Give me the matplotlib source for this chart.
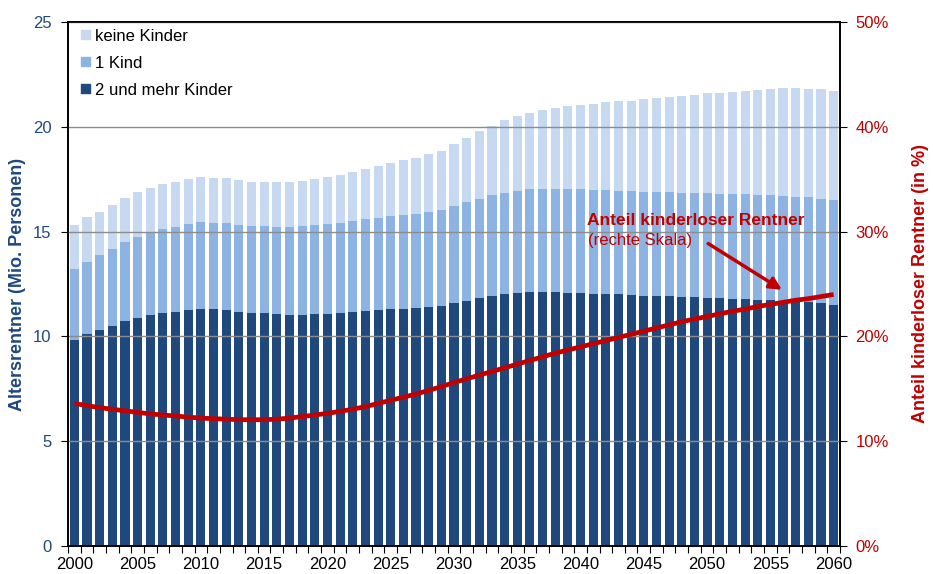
import numpy as np
import matplotlib
matplotlib.use('Agg')
import matplotlib.pyplot as plt
from matplotlib.patches import Patch
from matplotlib.ticker import FuncFormatter, MultipleLocator

plt.rcParams['font.family'] = ['Liberation Sans', 'DejaVu Sans']

years = list(range(2000, 2061))

# Altersrentner mit 2 und mehr Kindern (Mio.)
zwei_plus = [9.81, 10.10, 10.29, 10.51, 10.73, 10.90, 11.00, 11.13, 11.16, 11.24,
             11.29, 11.29, 11.24, 11.16, 11.11, 11.11, 11.06, 11.02, 11.03, 11.06,
             11.06, 11.11, 11.17, 11.22, 11.25, 11.29, 11.32, 11.37, 11.41, 11.46,
             11.60, 11.70, 11.84, 11.94, 12.00, 12.05, 12.10, 12.11, 12.10, 12.08,
             12.05, 12.03, 12.03, 12.00, 11.97, 11.95, 11.95, 11.92, 11.89, 11.86,
             11.84, 11.81, 11.79, 11.78, 11.75, 11.73, 11.70, 11.68, 11.63, 11.57,
             11.52]
# kumuliert bis "1 Kind"
bis_ein_kind = [13.22, 13.57, 13.86, 14.17, 14.48, 14.76, 14.95, 15.11, 15.22, 15.37,
                15.44, 15.43, 15.43, 15.33, 15.29, 15.29, 15.24, 15.22, 15.27, 15.33,
                15.38, 15.43, 15.50, 15.60, 15.65, 15.75, 15.79, 15.86, 15.94, 16.02,
                16.22, 16.41, 16.57, 16.73, 16.84, 16.94, 17.02, 17.03, 17.03, 17.03,
                17.03, 16.98, 16.98, 16.95, 16.95, 16.90, 16.89, 16.89, 16.86, 16.84,
                16.83, 16.79, 16.79, 16.78, 16.75, 16.73, 16.70, 16.67, 16.63, 16.56,
                16.51]
# Gesamt (inkl. keine Kinder)
gesamt = [15.32, 15.68, 15.95, 16.29, 16.62, 16.90, 17.10, 17.27, 17.38, 17.52,
          17.59, 17.57, 17.54, 17.46, 17.38, 17.38, 17.37, 17.37, 17.43, 17.51,
          17.60, 17.71, 17.85, 18.00, 18.11, 18.25, 18.40, 18.52, 18.68, 18.86,
          19.17, 19.48, 19.78, 20.06, 20.30, 20.51, 20.67, 20.79, 20.89, 20.97,
          21.03, 21.10, 21.16, 21.21, 21.25, 21.32, 21.38, 21.44, 21.49, 21.54,
          21.59, 21.63, 21.68, 21.71, 21.76, 21.79, 21.83, 21.83, 21.81, 21.78,
          21.73]
# Anteil kinderloser Rentner (in %)
anteil = [13.6, 13.4, 13.2, 13.05, 12.9, 12.75, 12.6, 12.5, 12.4, 12.3,
          12.2, 12.15, 12.1, 12.05, 12.05, 12.05, 12.1, 12.2, 12.35, 12.5,
          12.65, 12.85, 13.05, 13.3, 13.6, 13.9, 14.2, 14.5, 14.85, 15.2,
          15.6, 15.95, 16.3, 16.65, 17.0, 17.35, 17.7, 18.05, 18.4, 18.7,
          19.0, 19.3, 19.6, 19.9, 20.2, 20.5, 20.8, 21.1, 21.4, 21.65,
          21.9, 22.15, 22.4, 22.6, 22.85, 23.05, 23.25, 23.45, 23.6, 23.8,
          24.0]

c_dark = '#1F497D'
c_mid = '#8DB3E2'
c_light = '#C6D9F1'
c_red = '#C00000'

x = np.array(years)
zwei_plus = np.array(zwei_plus)
bis_ein_kind = np.array(bis_ein_kind)
gesamt = np.array(gesamt)

fig = plt.figure(figsize=(9.33, 5.74), dpi=100)
ax = fig.add_axes([0.0729, 0.0488, 0.8274, 0.9129])

w = 0.72
ax.bar(x, zwei_plus, width=w, color=c_dark, zorder=1)
ax.bar(x, bis_ein_kind - zwei_plus, bottom=zwei_plus, width=w, color=c_mid, zorder=1)
ax.bar(x, gesamt - bis_ein_kind, bottom=bis_ein_kind, width=w, color=c_light, zorder=1)

ax.set_xlim(1999.5, 2060.5)
ax.set_ylim(0, 25)
ax.yaxis.set_major_locator(MultipleLocator(5))
ax.set_axisbelow(False)
ax.grid(axis='y', color='#8C8C8C', linewidth=1.0)
ax.set_xticks(list(range(2000, 2061, 5)))
ax.set_xticks(np.arange(1999.5, 2061, 1.0), minor=True)
ax.tick_params(axis='x', which='major', length=0, labelsize=12, pad=8)
ax.tick_params(axis='x', which='minor', length=5, width=0.8)
ax.tick_params(axis='y', length=5, width=0.8, labelsize=12, labelcolor=c_dark, pad=7)
for s in ax.spines.values():
    s.set_linewidth(1.2)
ax.set_ylabel('Altersrentner (Mio. Personen)', color=c_dark, fontsize=13,
              fontweight='bold', labelpad=5)

handles = [Patch(color=c_light), Patch(color=c_mid), Patch(color=c_dark)]
ax.legend(handles, ['keine Kinder', '1 Kind', '2 und mehr Kinder'], loc='upper left',
          frameon=False, fontsize=12, handlelength=0.5, handleheight=0.5,
          handletextpad=0.3, labelspacing=0.72, borderaxespad=0.0,
          bbox_to_anchor=(0.0087, 1.0))

ax2 = ax.twinx()
ax2.plot(x, anteil, color=c_red, linewidth=3.4, solid_capstyle='butt')
ax2.set_ylim(0, 50)
ax2.yaxis.set_major_locator(MultipleLocator(10))
ax2.yaxis.set_major_formatter(FuncFormatter(lambda v, p: '{:.0f}%'.format(v)))
ax2.tick_params(axis='y', length=5, width=0.8, labelsize=12, labelcolor=c_red, pad=6)
ax2.set_ylabel('Anteil kinderloser Rentner (in %)', color=c_red, fontsize=13,
               fontweight='bold', labelpad=17)
for s in ax2.spines.values():
    s.set_linewidth(1.2)

ax2.text(2040.5, 30.6, 'Anteil kinderloser Rentner', color=c_red, fontsize=12.5,
         fontweight='bold', ha='left', va='baseline')
ax2.text(2040.6, 28.7, '(rechte Skala)', color=c_red, fontsize=12, ha='left', va='baseline')
ax2.annotate('', xy=(2056.1, 24.3), xytext=(2049.9, 29.0),
             arrowprops=dict(arrowstyle='-|>', color=c_red, lw=2.5, mutation_scale=18))

plt.savefig('out.png', dpi=100)
